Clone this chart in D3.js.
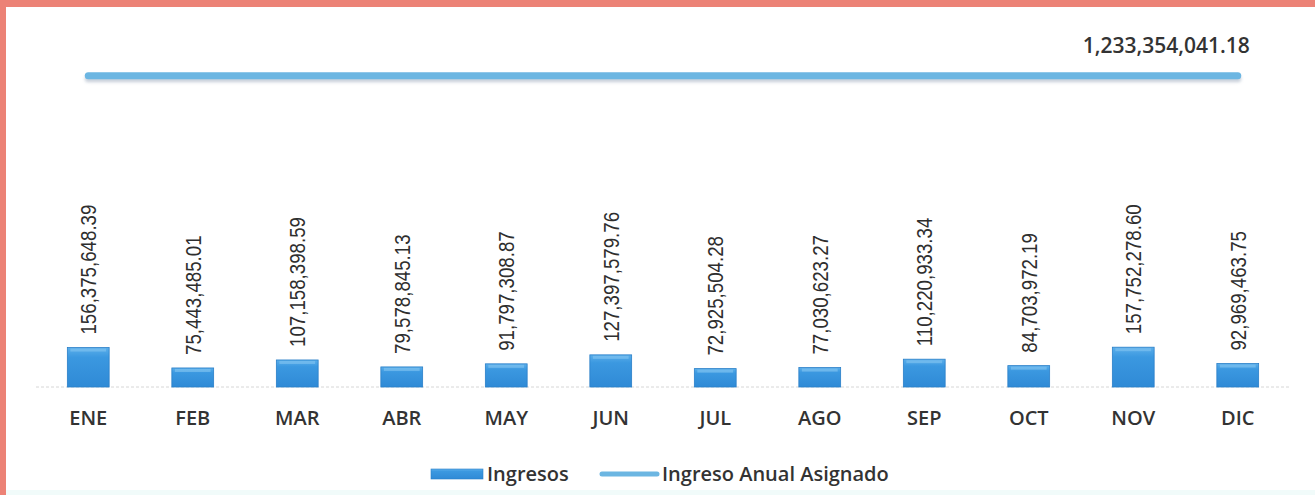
<!DOCTYPE html>
<html>
<head>
<meta charset="utf-8">
<script src="https://cdn.jsdelivr.net/npm/d3@7"></script>
<style>
  html, body { margin: 0; padding: 0; background: #ffffff; }
  svg { display: block; }
</style>
</head>
<body>
<svg id="chart" width="1315" height="495"></svg>
<script>
// data
var months = ["ENE", "FEB", "MAR", "ABR", "MAY", "JUN", "JUL", "AGO", "SEP", "OCT", "NOV", "DIC"];
var ingresos = [156375648.39, 75443485.01, 107158398.59, 79578845.13, 91797308.87, 127397579.76,
                72925504.28, 77030623.27, 110220933.34, 84703972.19, 157752278.60, 92969463.75];
var anualAsignado = [1233354041.18, 1233354041.18, 1233354041.18, 1233354041.18, 1233354041.18, 1233354041.18,
                     1233354041.18, 1233354041.18, 1233354041.18, 1233354041.18, 1233354041.18, 1233354041.18];
var legendLabels = ["Ingresos", "Ingreso Anual Asignado"];

var svg = d3.select("#chart"),
    width = +svg.attr("width"),
    height = +svg.attr("height");

var fmt = d3.format(",.2f");

// scanned page edge (salmon border top / left)
svg.append("rect").attr("x", 0).attr("y", 0).attr("width", width).attr("height", height).attr("fill", "#ffffff");
svg.append("rect").attr("x", 0).attr("y", 0).attr("width", width).attr("height", 7).attr("fill", "#ec8276");
svg.append("rect").attr("x", 0).attr("y", 0).attr("width", 6).attr("height", height).attr("fill", "#ec8276");
svg.append("rect").attr("x", 6).attr("y", 490).attr("width", width - 6).attr("height", 5).attr("fill", "#f1fbfa");

var defs = svg.append("defs");
var grad = defs.append("linearGradient").attr("id", "barGrad")
    .attr("x1", 0).attr("y1", 0).attr("x2", 0).attr("y2", 1);
grad.append("stop").attr("offset", "0%").attr("stop-color", "#5aaeea");
grad.append("stop").attr("offset", "25%").attr("stop-color", "#3b98e0");
grad.append("stop").attr("offset", "100%").attr("stop-color", "#2f8ad6");

// horizontal path has a zero-height bbox, so the filter region is in user space
var shadow = defs.append("filter").attr("id", "lineShadow")
    .attr("filterUnits", "userSpaceOnUse")
    .attr("x", 0).attr("y", 0).attr("width", width).attr("height", 200);
shadow.append("feDropShadow").attr("dx", 0).attr("dy", 3).attr("stdDeviation", 1.5)
    .attr("flood-color", "#8a9ab0").attr("flood-opacity", 0.45);

var x = d3.scaleBand().domain(months).range([36, 1290]).paddingInner(0.6).paddingOuter(0.3);
var y = d3.scaleLinear().domain([0, 1300000000]).range([387, 59]);

// baseline (faint dotted)
svg.append("line")
    .attr("x1", x.range()[0]).attr("x2", x.range()[1])
    .attr("y1", y(0)).attr("y2", y(0))
    .attr("stroke", "#d6d6d6").attr("stroke-width", 1).attr("stroke-dasharray", "3,2");

// bars
var bars = svg.append("g").attr("class", "bars")
    .selectAll("g")
    .data(ingresos)
    .enter().append("g");

bars.append("rect")
    .attr("x", function(d, i) { return x(months[i]); })
    .attr("y", function(d) { return y(d); })
    .attr("width", x.bandwidth())
    .attr("height", function(d) { return y(0) - y(d); })
    .attr("fill", "url(#barGrad)")
    .attr("stroke", "#2a7fc8").attr("stroke-width", 0.8);

// bevel highlight on top edge
bars.append("rect")
    .attr("x", function(d, i) { return x(months[i]) + 3; })
    .attr("y", function(d) { return y(d) + 1; })
    .attr("width", x.bandwidth() - 6)
    .attr("height", 3)
    .attr("fill", "#7cc0f0").attr("opacity", 0.7);

// value labels, rotated and squeezed to look condensed
bars.append("text")
    .attr("transform", function(d, i) {
      return "translate(" + (x(months[i]) + x.bandwidth() / 2) + "," + (y(d) - 13) + ") rotate(-90) scale(0.85,1)";
    })
    .attr("dy", "0.36em")
    .attr("font-family", "'Liberation Sans', Arial, sans-serif")
    .attr("font-size", 22)
    .attr("fill", "#2e2e2e")
    .text(function(d) { return fmt(d); });

// line of annual assigned income
var line = d3.line()
    .x(function(d, i) { return x(months[i]) + x.bandwidth() / 2; })
    .y(function(d) { return y(d); });

svg.append("path")
    .datum(anualAsignado)
    .attr("d", line)
    .attr("fill", "none")
    .attr("stroke", "#6cb6e2")
    .attr("stroke-width", 7)
    .attr("stroke-linecap", "round")
    .attr("filter", "url(#lineShadow)");

// label at last point
var lastI = anualAsignado.length - 1;
svg.append("text")
    .attr("x", x(months[lastI]) + x.bandwidth() / 2 + 12)
    .attr("y", y(anualAsignado[lastI]) - 23)
    .attr("text-anchor", "end")
    .attr("font-family", "'Open Sans', sans-serif")
    .attr("font-weight", 600)
    .attr("font-size", 21)
    .attr("fill", "#333333")
    .text(fmt(anualAsignado[lastI]));

// category axis labels
svg.append("g").selectAll("text")
    .data(months)
    .enter().append("text")
    .attr("x", function(d) { return x(d) + x.bandwidth() / 2; })
    .attr("y", 425)
    .attr("text-anchor", "middle")
    .attr("font-family", "'Open Sans', sans-serif")
    .attr("font-weight", 600)
    .attr("font-size", 20)
    .attr("fill", "#333333")
    .text(function(d) { return d; });

// legend
var legend = svg.append("g").attr("class", "legend");
legend.append("rect")
    .attr("x", 431).attr("y", 469).attr("width", 52).attr("height", 10)
    .attr("fill", "url(#barGrad)").attr("stroke", "#2a7fc8").attr("stroke-width", 0.6);
legend.append("text")
    .attr("x", 487).attr("y", 481)
    .attr("font-family", "'Open Sans', sans-serif").attr("font-weight", 600)
    .attr("font-size", 20).attr("fill", "#333333")
    .text(legendLabels[0]);
legend.append("line")
    .attr("x1", 602).attr("x2", 657).attr("y1", 474).attr("y2", 474)
    .attr("stroke", "#6cb6e2").attr("stroke-width", 5).attr("stroke-linecap", "round");
legend.append("text")
    .attr("x", 662).attr("y", 481)
    .attr("font-family", "'Open Sans', sans-serif").attr("font-weight", 600)
    .attr("font-size", 20).attr("fill", "#333333")
    .text(legendLabels[1]);
</script>
</body>
</html>
